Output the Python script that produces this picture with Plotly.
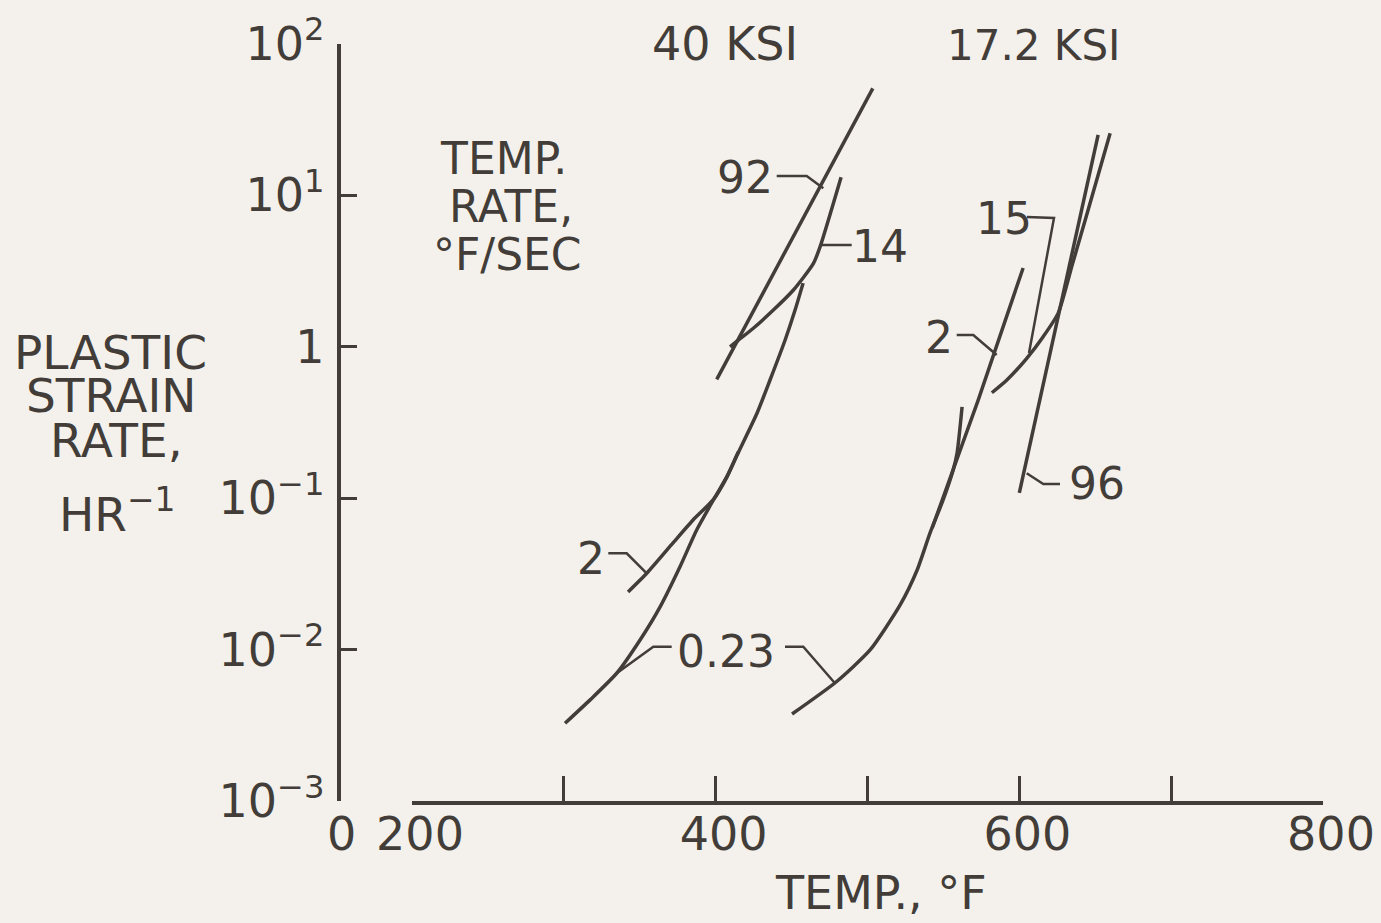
import plotly.graph_objects as go

W, H = 1381, 923
BG = "#f4f1ec"
INK = "#423d38"
FONT = "DejaVu Sans"

# ---------------- data (temperature, deg F ; plastic strain rate, 1/hr) ----------------
# 40 ksi
t40_92 = [400.7, 452.1, 503.5]
r40_92 = [0.607, 5.54, 50.6]
t40_14 = [409.5, 413.9, 424.8, 438.0, 451.2, 464.4, 468.8, 482.6]
r40_14 = [0.993, 1.08, 1.32, 1.74, 2.36, 3.54, 4.56, 13.1]
t40_2 = [342.3, 354.8, 371.9, 385.1, 398.3, 407.5, 414.1, 427.3, 435.8, 445.7, 452.3, 457.6]
r40_2 = [0.0240, 0.0320, 0.0505, 0.0716, 0.0971, 0.138, 0.192, 0.364, 0.601, 1.10, 1.74, 2.62]
t40_023 = [300.8, 317.3, 334.8, 350.2, 363.4, 376.5, 387.5, 398.5, 407.3, 415.0]
r40_023 = [0.00326, 0.00465, 0.00697, 0.01156, 0.01914, 0.0352, 0.0615, 0.097, 0.138, 0.202]
# 17.2 ksi
t17_96 = [600.0, 626.0, 651.9]
r17_96 = [0.108, 1.65, 24.9]
t17_15 = [581.9, 591.8, 604.9, 615.7, 625.6, 634.8, 645.3, 659.8]
r17_15 = [0.495, 0.601, 0.836, 1.16, 1.66, 3.45, 7.96, 25.6]
t17_2 = [542.6, 572.9, 602.5]
r17_2 = [0.0634, 0.443, 3.30]
t17_023 = [450.3, 479.3, 501.7, 521.5, 532.7, 541.2, 549.8, 556.4, 559.0, 562.3]
r17_023 = [0.00375, 0.0061, 0.00993, 0.0197, 0.0335, 0.0588, 0.097, 0.153, 0.198, 0.399]

x_ticks = [200, 400, 600, 800]
x_ticktext = ["200", "400", "600", "800"]
x_minor_step = 100
y_ticks = [1e-3, 1e-2, 1e-1, 1, 1e1, 1e2]
y_ticktext = ["10<sup>−3</sup>", "10<sup>−2</sup>", "10<sup>−1</sup>", "1",
              "10<sup>1</sup>", "10<sup>2</sup>"]

series = [
    (t40_92, r40_92, "linear"), (t40_14, r40_14, "spline"),
    (t40_2, r40_2, "spline"), (t40_023, r40_023, "spline"),
    (t17_96, r17_96, "linear"), (t17_15, r17_15, "spline"),
    (t17_2, r17_2, "spline"), (t17_023, r17_023, "spline"),
]

fig = go.Figure()
for tx, ry, shp in series:
    fig.add_trace(go.Scatter(x=tx, y=ry, mode="lines",
                             line=dict(color=INK, width=3.5, shape=shp, smoothing=0.6),
                             hoverinfo="skip"))


def P(x, y):
    return x / W, 1 - y / H


annotations = []


def label(text, x, y, size=44, xanchor="center", yanchor="middle"):
    px, py = P(x, y)
    annotations.append(dict(text=text, x=px, y=py, xref="paper", yref="paper",
                            showarrow=False, xanchor=xanchor, yanchor=yanchor,
                            font=dict(family=FONT, size=size, color=INK)))


shapes = []


def leader(pts):
    path = ""
    for i, (x, y) in enumerate(pts):
        px, py = P(x, y)
        path += ("M" if i == 0 else "L") + f"{px},{py} "
    shapes.append(dict(type="path", path=path.strip(), xref="paper", yref="paper",
                       line=dict(color=INK, width=2.5)))


# headings
label("40 KSI", 725, 44, 46)
label("17.2 KSI", 1033, 46, 42)
label("TEMP.", 503, 158, 44)
label("RATE,", 511, 206, 44)
label("°F/SEC", 507, 254, 44)
# y title
label("PLASTIC", 110, 352, 47)
label("STRAIN", 111, 396, 47)
label("RATE,", 116, 440, 47)
label("HR<sup>−1</sup>", 117, 511, 47)
# x title and the 0 at the origin
label("TEMP., °F", 881, 893, 46)
label("0", 341, 834, 46)

# curve labels
label("92", 745, 177)
label("14", 880, 247)
label("2", 591, 558)
label("0.23", 726, 651)
label("15", 1004, 218)
label("2", 939, 337)
label("96", 1097, 483)

leader([(776.7, 176), (806.7, 176), (823.3, 188.3)])
leader([(821.7, 245), (851.7, 245)])
leader([(608.3, 553.3), (626.7, 553.3), (646.7, 573.3)])
leader([(671.7, 646.7), (653.3, 646.7), (616.7, 673.3)])
leader([(785, 646.7), (803.3, 646.7), (835, 683.3)])
leader([(1027, 217), (1054, 218), (1029, 353)])
leader([(956.7, 335), (973.3, 335), (996.7, 355)])
leader([(1060, 484), (1043.3, 484), (1026.7, 473.3)])

fig.update_layout(
    width=W, height=H, margin=dict(l=0, r=0, t=0, b=0, autoexpand=False),
    paper_bgcolor=BG, plot_bgcolor=BG, showlegend=False,
    font=dict(family=FONT, color=INK, size=46),
    annotations=annotations, shapes=shapes,
    xaxis=dict(domain=[412 / W, 1323 / W], range=[200, 800], automargin=False,
               tickvals=x_ticks, ticktext=x_ticktext,
               ticks="inside", ticklen=25, tickwidth=3, tickcolor=INK,
               minor=dict(ticks="inside", ticklen=25, tickwidth=3, tickcolor=INK,
                          tick0=x_ticks[0], dtick=x_minor_step, showgrid=False),
               showline=True, linewidth=3.5, linecolor=INK,
               showgrid=False, zeroline=False, anchor="y",
               ticklabelshift=8, ticklabelstandoff=-10,
               tickfont=dict(family=FONT, size=46, color=INK)),
    yaxis=dict(type="log", domain=[1 - 801 / H, 1 - 43.5 / H], range=[-3, 2],
               anchor="free", position=338.5 / W, automargin=False,
               tickvals=y_ticks, ticktext=y_ticktext,
               ticks="inside", ticklen=17, tickwidth=3, tickcolor=INK,
               showline=True, linewidth=3.5, linecolor=INK,
               showgrid=False, zeroline=False, ticklabelstandoff=3,
               tickfont=dict(family=FONT, size=46, color=INK)),
)

fig.write_html("out.html")
